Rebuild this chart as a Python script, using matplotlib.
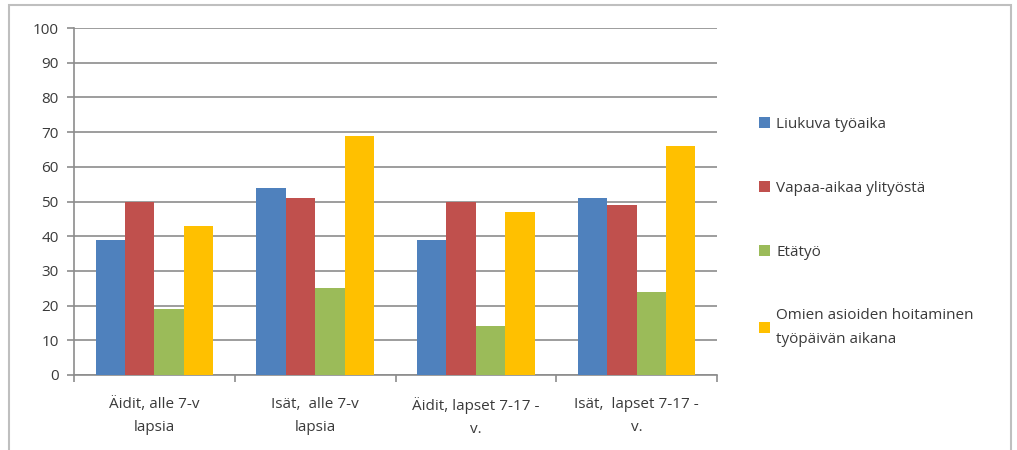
import matplotlib
matplotlib.use("Agg")
import matplotlib.pyplot as plt
from matplotlib.patches import Rectangle
import numpy as np

categories = ["Äidit, alle 7-v\nlapsia", "Isät,  alle 7-v\nlapsia",
              "Äidit, lapset 7-17 -\nv.", "Isät,  lapset 7-17 -\nv."]
series_names = ["Liukuva työaika", "Vapaa-aikaa ylityöstä", "Etätyö",
                "Omien asioiden hoitaminen\ntyöpäivän aikana"]
liukuva = [39, 54, 39, 51]
vapaa = [50, 51, 50, 49]
etatyo = [19, 25, 14, 24]
omien = [43, 69, 47, 66]
y_ticks = [0, 10, 20, 30, 40, 50, 60, 70, 80, 90, 100]

colors = ["#4F81BD", "#C0504D", "#9BBB59", "#FFC000"]
text_color = "#3A3A3A"

plt.rcParams["font.family"] = ["Open Sans", "DejaVu Sans"]

W, H = 1017, 450
fig = plt.figure(figsize=(W / 100, H / 100), dpi=100)
ax = fig.add_axes([74 / W, 1 - 375 / H, (717 - 74) / W, (375 - 28) / H])

# outer chart frame
fig.patches.append(Rectangle((9 / W, -0.01), (1011 - 9) / W, 1 - 5 / H + 0.01,
                             transform=fig.transFigure, fill=False,
                             edgecolor="#BFBFBF", linewidth=1.5))

x = np.arange(len(categories))
bw = 0.183
all_series = [liukuva, vapaa, etatyo, omien]
handles = []
for i, (vals, c, name) in enumerate(zip(all_series, colors, series_names)):
    h = ax.bar(x + (i - 1.5) * bw, vals, width=bw, color=c, label=name,
               zorder=3, linewidth=0)
    handles.append(h)

ax.set_xlim(-0.5, len(categories) - 0.5)
ax.set_ylim(0, 100)
ax.set_yticks(y_ticks)
ax.yaxis.grid(True, color="#8C8C8C", linewidth=1.2, zorder=0)
ax.set_axisbelow(True)

for s in ["top", "right"]:
    ax.spines[s].set_visible(False)
ax.spines["left"].set_color("#8C8C8C")
ax.spines["bottom"].set_color("#8C8C8C")
ax.spines["left"].set_linewidth(1.2)
ax.spines["bottom"].set_linewidth(1.2)

ax.tick_params(axis="y", colors="#8C8C8C", labelcolor=text_color, length=5,
               width=1.2, labelsize=11, pad=6)
# group boundary ticks on x axis, labels at group centres
ax.set_xticks(np.arange(len(categories) + 1) - 0.5)
ax.set_xticklabels([])
ax.tick_params(axis="x", colors="#8C8C8C", length=5, width=1.2)
ax.set_xticks(x, minor=True)
ax.set_xticklabels(categories, minor=True, fontsize=11, color=text_color,
                   linespacing=1.75)
ax.tick_params(axis="x", which="minor", length=0, pad=16)

leg = fig.legend(handles=handles, labels=series_names,
                 loc="upper left", bbox_to_anchor=(745 / W, 1 - 103 / H),
                 frameon=False, fontsize=11, handlelength=0.75,
                 handleheight=0.75, handletextpad=0.4, labelspacing=3.2,
                 labelcolor=text_color)
for t in leg.get_texts():
    t.set_linespacing(1.75)

fig.savefig("out.png", dpi=100)
